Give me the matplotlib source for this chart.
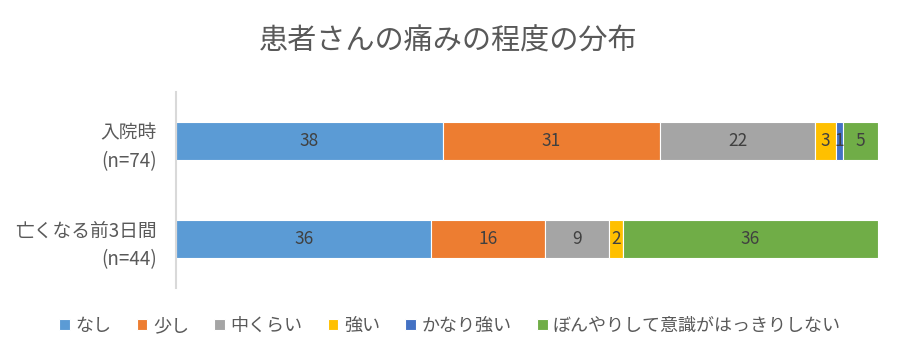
import numpy as np
import matplotlib
matplotlib.use("Agg")
import matplotlib.pyplot as plt

plt.rcParams['font.family'] = ['Noto Sans CJK JP', 'DejaVu Sans']

# データ（%）
groups = ["入院時\n(n=74)", "亡くなる前3日間\n(n=44)"]
levels = ["なし", "少し", "中くらい", "強い", "かなり強い", "ぼんやりして意識がはっきりしない"]
admission = [38, 31, 22, 3, 1, 5]
last3days = [36, 16, 9, 2, 0, 36]
colors = ["#5B9BD5", "#ED7D31", "#A5A5A5", "#FFC000", "#4472C4", "#70AD47"]

values = np.array([admission, last3days], dtype=float)
shares = values / values.sum(axis=1, keepdims=True) * 100

fig = plt.figure(figsize=(9, 3.6), dpi=100)
ax = fig.add_axes([176 / 900, 0.2, 702 / 900, 0.544])

y = np.arange(len(groups))
left = np.zeros(len(groups))
for k, name in enumerate(levels):
    bars = ax.barh(y, shares[:, k], left=left, height=0.39, color=colors[k],
                   edgecolor="white", linewidth=0.8, label=name)
    for i, b in enumerate(bars):
        v = values[i, k]
        if v > 0:
            ax.text(b.get_x() + b.get_width() / 2, b.get_y() + b.get_height() / 2,
                    f"{v:.0f}", ha="center", va="center", fontsize=12.5, color="#404040")
    left += shares[:, k]

ax.set_xlim(0, 100)
ax.set_ylim(1.5, -0.5)
ax.set_yticks(y)
ax.set_yticklabels(groups, fontsize=13.5, color="#595959", linespacing=1.5)
ax.tick_params(axis="y", length=0, pad=14)
ax.set_xticks([])
for s in ["top", "right", "bottom"]:
    ax.spines[s].set_visible(False)
ax.spines["left"].set_color("#D9D9D9")
ax.spines["left"].set_linewidth(1.5)

fig.suptitle("患者さんの痛みの程度の分布", x=0.498, y=0.925, fontsize=21, color="#595959")

fig.legend(loc="center", bbox_to_anchor=(0.5, 0.095), ncol=6, frameon=False,
           fontsize=13, handlelength=0.6, handleheight=0.6, handletextpad=0.3,
           columnspacing=1.4, labelcolor="#595959")

fig.savefig("out.png", dpi=100)
